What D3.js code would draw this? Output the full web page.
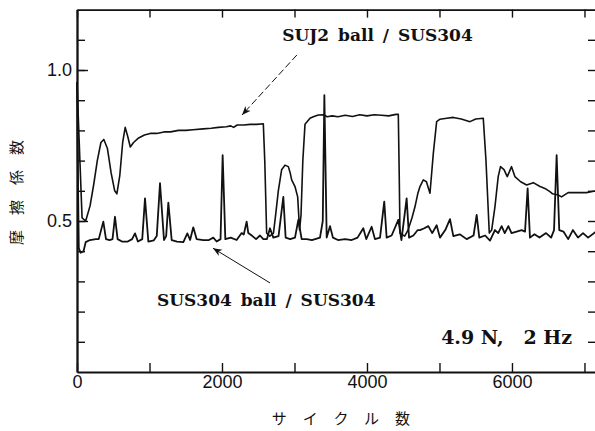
<!DOCTYPE html>
<html>
<head>
<meta charset="utf-8">
<script src="https://cdn.jsdelivr.net/npm/d3@7"></script>
<style>
  html, body { margin: 0; padding: 0; background: #fff; }
  svg { display: block; }
  .tick line, .domain { stroke: #111; }
</style>
</head>
<body>
<div id="chart"></div>
<script>
// Friction coefficient vs. cycles, two ball/plate pairs
const sujCycles = [0, 40, 70, 120, 180, 230, 280, 330, 370, 420, 470, 520, 550, 590, 630, 665, 700, 735, 780, 850,
  930, 1010, 1100, 1200, 1290, 1400, 1500, 1600, 1740, 1850, 1950, 2060, 2120, 2160, 2210, 2300, 2390, 2480, 2570,
  2590, 2616, 2660, 2710, 2740, 2777, 2823, 2869, 2915, 2940, 2961, 3007, 3044, 3070, 3090, 3115, 3145, 3214, 3260,
  3329, 3398, 3450, 3520, 3600, 3700, 3800, 3900, 4000, 4100, 4200, 4300, 4400, 4432, 4445, 4455, 4520, 4566, 4620,
  4662, 4700, 4731, 4777, 4820, 4869, 4915, 4961, 5007, 5100, 5191, 5300, 5421, 5500, 5604, 5641, 5687, 5720, 5765,
  5810, 5842, 5890, 5935, 5994, 6040, 6120, 6202, 6294, 6380, 6454, 6523, 6560, 6637, 6683, 6775, 6900, 7028, 7159];
const sujMu = [0.96, 0.70, 0.51, 0.50, 0.55, 0.62, 0.70, 0.76, 0.77, 0.74, 0.66, 0.60, 0.59, 0.65, 0.76, 0.81, 0.78,
  0.745, 0.76, 0.775, 0.785, 0.79, 0.79, 0.795, 0.795, 0.80, 0.80, 0.802, 0.805, 0.807, 0.81, 0.812, 0.815, 0.81,
  0.818, 0.818, 0.82, 0.82, 0.822, 0.70, 0.46, 0.45, 0.46, 0.52, 0.60, 0.67, 0.685, 0.68, 0.66, 0.636, 0.614, 0.58,
  0.47, 0.52, 0.70, 0.82, 0.84, 0.845, 0.851, 0.852, 0.845, 0.848, 0.845, 0.85, 0.846, 0.852, 0.848, 0.852, 0.85,
  0.848, 0.853, 0.853, 0.65, 0.46, 0.45, 0.47, 0.51, 0.547, 0.59, 0.614, 0.636, 0.63, 0.592, 0.724, 0.829, 0.837,
  0.84, 0.843, 0.838, 0.829, 0.838, 0.84, 0.702, 0.46, 0.47, 0.547, 0.647, 0.68, 0.67, 0.647, 0.68, 0.647, 0.63,
  0.619, 0.627, 0.615, 0.608, 0.597, 0.59, 0.586, 0.58, 0.594, 0.594, 0.594, 0.60];

const susCycles = [0, 15, 25, 50, 90, 120, 179, 260, 300, 363, 400, 450, 490, 524, 560, 620, 700, 760, 800, 840, 900,
  938, 984, 1060, 1100, 1145, 1200, 1230, 1260, 1306, 1380, 1467, 1522, 1560, 1604, 1650, 1740, 1820, 1880, 1926,
  1980, 2009, 2046, 2120, 2202, 2271, 2300, 2340, 2363, 2420, 2470, 2524, 2570, 2620, 2662, 2708, 2780, 2846, 2878,
  2940, 3007, 3053, 3099, 3170, 3240, 3352, 3390, 3412, 3444, 3490, 3530, 3600, 3697, 3790, 3870, 3949, 3990, 4064,
  4110, 4180, 4238, 4271, 4340, 4432, 4475, 4547, 4580, 4640, 4700, 4731, 4790, 4846, 4900, 4961, 5007, 5080, 5145,
  5191, 5280, 5375, 5470, 5513, 5549, 5630, 5697, 5765, 5810, 5857, 5900, 5950, 5994, 6064, 6133, 6180, 6216, 6248,
  6310, 6380, 6470, 6540, 6580, 6616, 6652, 6710, 6775, 6840, 6910, 6980, 7050, 7159];
const susMu = [0.96, 0.60, 0.41, 0.395, 0.40, 0.43, 0.437, 0.44, 0.44, 0.498, 0.44, 0.437, 0.44, 0.514, 0.44, 0.432,
  0.432, 0.44, 0.459, 0.432, 0.44, 0.575, 0.432, 0.436, 0.45, 0.625, 0.437, 0.45, 0.561, 0.437, 0.432, 0.43, 0.459,
  0.437, 0.479, 0.44, 0.437, 0.437, 0.445, 0.432, 0.44, 0.718, 0.44, 0.445, 0.437, 0.46, 0.455, 0.498, 0.46, 0.45,
  0.44, 0.452, 0.44, 0.44, 0.476, 0.445, 0.45, 0.58, 0.445, 0.44, 0.445, 0.504, 0.44, 0.44, 0.437, 0.445, 0.50,
  0.917, 0.445, 0.483, 0.445, 0.437, 0.44, 0.437, 0.445, 0.476, 0.44, 0.481, 0.44, 0.445, 0.564, 0.445, 0.452,
  0.504, 0.437, 0.575, 0.445, 0.452, 0.47, 0.47, 0.476, 0.483, 0.46, 0.486, 0.445, 0.47, 0.506, 0.45, 0.456, 0.44,
  0.452, 0.52, 0.445, 0.452, 0.435, 0.47, 0.46, 0.483, 0.46, 0.483, 0.46, 0.465, 0.47, 0.465, 0.608, 0.445, 0.456,
  0.445, 0.46, 0.445, 0.47, 0.718, 0.47, 0.465, 0.44, 0.47, 0.445, 0.46, 0.445, 0.465];

const xTicks = [0, 1000, 2000, 3000, 4000, 5000, 6000, 7000];
const xTickLabels = { 0: "0", 2000: "2000", 4000: "4000", 6000: "6000" };
const yMinorTicks = [0.1, 0.2, 0.3, 0.4, 0.5, 0.6, 0.7, 0.8, 0.9, 1.0, 1.1];
const yMajorTicks = [0.5, 1.0];

const width = 595, height = 431;
const x = d3.scaleLinear().domain([0, 7159]).range([77, 596]);
const y = d3.scaleLinear().domain([0, 1.2]).range([372, 9.6]);

const svg = d3.select("#chart").append("svg")
  .attr("width", width)
  .attr("height", height);

const defs = svg.append("defs");
defs.append("marker")
  .attr("id", "head")
  .attr("viewBox", "0 0 10 10")
  .attr("refX", 10).attr("refY", 5)
  .attr("markerWidth", 9).attr("markerHeight", 9)
  .attr("markerUnits", "userSpaceOnUse")
  .attr("orient", "auto")
  .append("path")
  .attr("d", "M0,1 L10,5 L0,9 L3,5 Z")
  .attr("fill", "#111");

const tickFont = "Liberation Sans, Arial, sans-serif";

// bottom axis, ticks pointing in
svg.append("g")
  .attr("transform", `translate(0,${y(0)})`)
  .call(d3.axisBottom(x).tickValues(xTicks).tickSize(-9).tickSizeOuter(0).tickPadding(3)
    .tickFormat(d => xTickLabels[d] || ""));

// top axis
svg.append("g")
  .attr("transform", `translate(0,${y(1.2)})`)
  .call(d3.axisTop(x).tickValues(xTicks).tickSize(-8).tickSizeOuter(0).tickFormat(""));

// left axis: minor then major
svg.append("g")
  .attr("transform", `translate(${x(0)},0)`)
  .call(d3.axisLeft(y).tickValues(yMinorTicks).tickSize(-8).tickSizeOuter(0).tickFormat(""));
svg.append("g")
  .attr("transform", `translate(${x(0)},0)`)
  .call(d3.axisLeft(y).tickValues(yMajorTicks).tickSize(-11).tickSizeOuter(0).tickPadding(5)
    .tickFormat(d3.format(".1f")));

// right axis (edge sits just off the page)
svg.append("g")
  .attr("transform", `translate(${x.range()[1]},0)`)
  .call(d3.axisRight(y).tickValues(yMinorTicks).tickSize(-8).tickSizeOuter(0).tickFormat(""))
  .select(".domain").remove();

svg.selectAll(".domain").attr("stroke-width", 1.8);
svg.selectAll(".tick line").attr("stroke-width", 1.4);
svg.selectAll(".tick text")
  .attr("font-family", tickFont)
  .attr("font-size", 18)
  .attr("fill", "#111");

// data lines
const line = d3.line()
  .x(d => x(d[0]))
  .y(d => y(d[1]));

svg.append("path")
  .datum(d3.zip(sujCycles, sujMu))
  .attr("fill", "none")
  .attr("stroke", "#111")
  .attr("stroke-width", 1.6)
  .attr("stroke-linejoin", "round")
  .attr("d", line);

svg.append("path")
  .datum(d3.zip(susCycles, susMu))
  .attr("fill", "none")
  .attr("stroke", "#111")
  .attr("stroke-width", 1.8)
  .attr("stroke-linejoin", "round")
  .attr("d", line);

// annotations
const noteFont = "DejaVu Serif, Liberation Serif, serif";

svg.append("text")
  .attr("x", x(2830)).attr("y", y(1.095))
  .attr("font-family", noteFont).attr("font-weight", "bold").attr("font-size", 17)
  .attr("fill", "#111")
  .attr("word-spacing", 3)
  .text("SUJ2 ball / SUS304");

svg.append("text")
  .attr("x", x(1103)).attr("y", y(0.2185))
  .attr("font-family", noteFont).attr("font-weight", "bold").attr("font-size", 17)
  .attr("fill", "#111")
  .attr("word-spacing", 3)
  .text("SUS304 ball / SUS304");

svg.append("text")
  .attr("x", x(6828)).attr("y", y(0.092))
  .attr("text-anchor", "end")
  .attr("font-family", noteFont).attr("font-weight", "bold").attr("font-size", 19)
  .attr("fill", "#111")
  .attr("xml:space", "preserve")
  .text("4.9 N,   2 Hz");

svg.append("line")
  .attr("x1", x(3034)).attr("y1", y(1.05))
  .attr("x2", x(2276)).attr("y2", y(0.851))
  .attr("stroke", "#111").attr("stroke-width", 1)
  .attr("stroke-dasharray", "7,3")
  .attr("marker-end", "url(#head)");

svg.append("line")
  .attr("x1", x(2662)).attr("y1", y(0.295))
  .attr("x2", x(1876)).attr("y2", y(0.41))
  .attr("stroke", "#111").attr("stroke-width", 1)
  .attr("marker-end", "url(#head)");

// axis titles
const cjkFont = "Noto Sans CJK JP, sans-serif";

svg.append("text")
  .attr("transform", "translate(22,192) rotate(-90)")
  .attr("text-anchor", "middle")
  .attr("font-family", cjkFont).attr("font-size", 15)
  .attr("letter-spacing", 15)
  .attr("dx", 7)
  .attr("fill", "#111")
  .text("摩擦係数");

svg.append("text")
  .attr("x", 341).attr("y", 424)
  .attr("text-anchor", "middle")
  .attr("font-family", cjkFont).attr("font-size", 15)
  .attr("letter-spacing", 16)
  .attr("dx", 8)
  .attr("fill", "#111")
  .text("サイクル数");
</script>
</body>
</html>
